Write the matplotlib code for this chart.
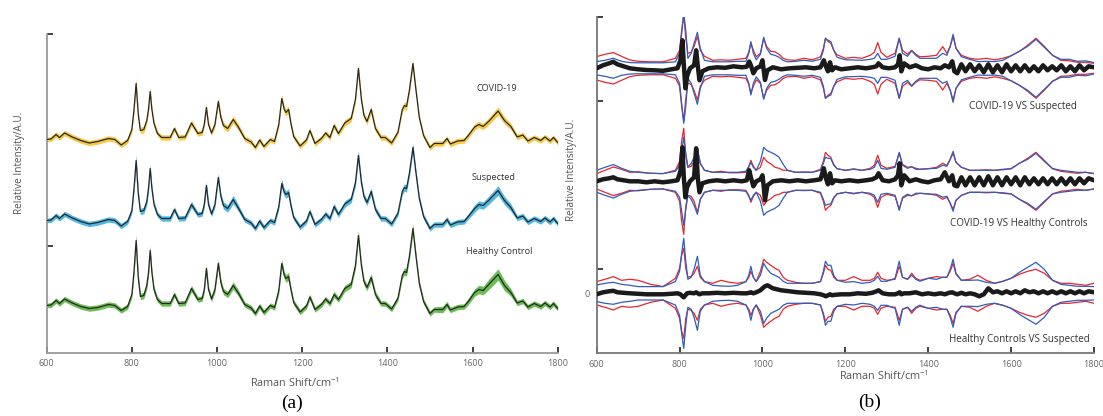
import matplotlib
matplotlib.use('Agg')
import matplotlib.pyplot as plt
import numpy as np

# ---------------- data ----------------
shift_ticks = [600, 800, 1000, 1200, 1400, 1600, 1800]
group_labels = ['COVID-19', 'Suspected', 'Healthy Control']
comparison_labels = ['COVID-19 VS Suspected', 'COVID-19 VS Healthy Controls',
                     'Healthy Controls VS Suspected']

# (Raman shift, mean intensity, std) for each group, panel (a)
covid_spectrum = [
    (600, 0, 2.2), (610, 0.5, 2.5), (622, 5, 2.7), (630, 2, 2.7), (642, 6.5, 2.7), (660, 2.5, 2.7),
    (680, -1, 2.7), (700, -3.5, 2.7), (720, -2, 2.7), (745, 1, 2.7), (760, 0, 2.7), (775, -5.5, 2.7),
    (790, -1, 2.7), (800, 10, 3.2), (805, 30, 4.2), (810, 56, 5.7), (815, 25, 4.2), (820, 9, 3.2),
    (828, 10, 3.2), (835, 19, 3.7), (839, 30, 4.2), (843, 48, 4.7), (847, 30, 3.7), (852, 16, 3.2),
    (860, 6, 2.7), (870, 2, 2.7), (890, 2, 2.7), (900, 11, 2.7), (910, 2, 2.7), (925, 2.5, 2.7),
    (940, 16.5, 3.2), (955, 6, 2.7), (965, 7, 2.7), (970, 15, 3.2), (975, 32, 3.7), (980, 15, 3.2),
    (987, 6.5, 2.7), (995, 15, 3.2), (1003, 38, 4.2), (1009, 22, 3.7), (1015, 14, 3.2), (1025, 11, 3.2),
    (1038, 20, 3.7), (1050, 12.5, 3.2), (1065, 1, 2.7), (1080, -2.5, 2.7), (1090, -8, 2.7), (1100, -0.5, 2.7),
    (1110, -7, 2.7), (1125, 0, 2.7), (1135, -2, 2.7), (1145, 15, 3.2), (1152, 41, 4.2), (1158, 30, 3.7),
    (1162, 27, 3.7), (1168, 30, 3.7), (1174, 15, 3.2), (1180, 3, 2.7), (1195, -6.5, 2.7), (1210, -0.5, 2.7),
    (1218, 9, 2.7), (1230, -4, 2.7), (1245, 1, 2.7), (1255, 6.5, 2.7), (1265, 2, 2.7), (1275, 14, 3.2),
    (1285, 6, 2.7), (1300, 16.5, 3.2), (1315, 21, 3.2), (1325, 40, 3.7), (1332, 71, 4.7), (1339, 40, 3.7),
    (1345, 24, 3.2), (1352, 18, 3.2), (1362, 30, 3.7), (1372, 11, 3.2), (1385, 2, 2.7), (1395, 2, 2.7),
    (1410, -3.5, 2.7), (1425, 7.5, 2.7), (1435, 30, 3.2), (1440, 34, 3.7), (1445, 33, 3.7), (1452, 50, 3.7),
    (1460, 76, 4.2), (1467, 50, 3.7), (1475, 22, 3.2), (1485, 4, 2.7), (1500, -8, 2.7), (1510, -4, 2.7),
    (1530, -4, 2.7), (1540, 1, 2.7), (1548, -4.5, 2.7), (1565, -1.5, 2.7), (1580, -1, 2.7), (1590, 4, 2.7),
    (1605, 12.5, 3.2), (1615, 15, 3.2), (1625, 13, 3.2), (1640, 19, 3.7), (1660, 28.5, 4.2),
    (1675, 19, 3.7), (1690, 13, 3.2), (1705, 2.5, 2.7), (1718, 4.5, 2.7), (1730, -1.5, 2.7), (1745, 2, 2.7),
    (1760, -1, 2.7), (1770, 2.5, 2.7), (1782, -1.5, 2.7), (1790, 2, 2.7), (1800, -3, 2.5)]

suspected_spectrum = [
    (600, 0, 2.2), (610, 0.5, 2.5), (622, 5, 2.7), (630, 2, 2.7), (642, 6.5, 2.7), (660, 2.5, 2.7),
    (680, -1, 2.7), (700, -3.5, 2.7), (720, -2, 2.7), (745, 1, 2.7), (760, 0, 2.7), (775, -5.5, 2.7),
    (790, -1, 2.7), (800, 10, 3.2), (805, 32, 4.2), (810, 60, 5.7), (815, 27, 4.2), (820, 9, 3.2),
    (828, 10, 3.2), (835, 19, 3.7), (839, 32, 4.2), (843, 52, 4.7), (847, 32, 3.7), (852, 16, 3.2),
    (860, 6, 2.7), (870, 2, 2.7), (890, 2, 2.7), (900, 11, 2.7), (910, 2, 2.7), (925, 2.5, 2.7),
    (940, 16, 3.2), (955, 6, 2.7), (965, 7, 2.7), (970, 16, 3.2), (975, 35, 3.7), (980, 16, 3.2),
    (987, 6.5, 2.7), (995, 16, 3.2), (1003, 43, 4.2), (1009, 24, 3.7), (1015, 15, 3.7), (1025, 12, 3.7),
    (1038, 21, 4.2), (1050, 12.5, 3.2), (1065, 1, 2.7), (1080, -2.5, 2.7), (1090, -8, 2.7), (1100, -0.5, 2.7),
    (1110, -7, 2.7), (1125, 0, 2.7), (1135, -2, 2.7), (1145, 14, 3.2), (1152, 37, 4.2), (1158, 28, 3.7),
    (1162, 26, 3.7), (1168, 28, 3.7), (1174, 14, 3.2), (1180, 3, 2.7), (1195, -6.5, 2.7), (1210, -0.5, 2.7),
    (1218, 9, 2.7), (1230, -4, 2.7), (1245, 1, 2.7), (1255, 6.5, 2.7), (1265, 2, 2.7), (1275, 14, 3.2),
    (1285, 6, 2.7), (1300, 16.5, 3.2), (1315, 21, 3.2), (1325, 38, 3.7), (1332, 65, 4.7), (1339, 38, 3.7),
    (1345, 24, 3.2), (1352, 18, 3.2), (1362, 29, 3.7), (1372, 11, 3.2), (1385, 2, 2.7), (1395, 2, 2.7),
    (1410, -3.5, 2.7), (1425, 7.5, 2.7), (1435, 29, 3.2), (1440, 33, 3.7), (1445, 32, 3.7), (1452, 48, 3.7),
    (1460, 73, 4.2), (1467, 48, 3.7), (1475, 22, 3.2), (1485, 4, 2.7), (1500, -8, 2.7), (1510, -4, 2.7),
    (1530, -4, 2.7), (1540, 1, 2.7), (1548, -4.5, 2.7), (1565, -1.5, 2.7), (1580, -1, 2.7), (1590, 4, 2.7),
    (1605, 12, 3.7), (1615, 16, 3.7), (1625, 15, 3.7), (1640, 21, 4.2), (1660, 30, 4.7),
    (1675, 20, 4.2), (1690, 13, 3.7), (1705, 2.5, 2.7), (1718, 4.5, 2.7), (1730, -1.5, 2.7), (1745, 2, 2.7),
    (1760, -1, 2.7), (1770, 2.5, 2.7), (1782, -1.5, 2.7), (1790, 2, 2.7), (1800, -3, 2.5)]

healthy_spectrum = [
    (600, 0, 2.2), (610, 0.5, 2.5), (622, 5, 2.7), (630, 2, 2.7), (642, 6.5, 2.7), (660, 2.5, 2.7),
    (680, -1, 2.7), (700, -3, 2.7), (720, -2, 2.7), (745, 1, 2.7), (760, 0, 2.7), (775, -5, 2.7),
    (790, -1, 2.7), (800, 11, 3.2), (805, 34, 4.2), (810, 65, 5.7), (815, 28, 4.2), (820, 9, 3.2),
    (828, 10, 3.2), (835, 20, 3.7), (839, 33, 4.2), (843, 55, 4.7), (847, 33, 3.7), (852, 16, 3.2),
    (860, 6, 2.7), (870, 2, 2.7), (890, 2, 2.7), (900, 11, 2.7), (910, 2, 2.7), (925, 2.5, 2.7),
    (940, 17, 3.2), (955, 6, 2.7), (965, 7, 2.7), (970, 16, 3.2), (975, 37, 4.2), (980, 16, 3.2),
    (987, 6.5, 2.7), (995, 16, 3.2), (1003, 42, 4.2), (1009, 23, 3.7), (1015, 14, 3.2), (1025, 11, 3.2),
    (1038, 20, 3.7), (1050, 12.5, 3.2), (1065, 1, 2.7), (1080, -2.5, 2.7), (1090, -8, 2.7), (1100, -0.5, 2.7),
    (1110, -7, 2.7), (1125, 0, 2.7), (1135, -2, 2.7), (1145, 15, 3.2), (1152, 42, 4.2), (1158, 30, 3.7),
    (1162, 27, 3.7), (1168, 29, 4.2), (1174, 15, 3.2), (1180, 3, 2.7), (1195, -6.5, 2.7), (1210, -0.5, 2.7),
    (1218, 8.5, 2.7), (1230, -4, 2.7), (1245, 1, 2.7), (1255, 6.5, 2.7), (1265, 2, 2.7), (1275, 11, 3.2),
    (1285, 6, 2.7), (1300, 17, 3.2), (1315, 21, 3.2), (1325, 40, 3.7), (1332, 70, 4.7), (1339, 40, 3.7),
    (1345, 24, 3.2), (1352, 18, 3.2), (1362, 28, 3.7), (1372, 11, 3.2), (1385, 2, 2.7), (1395, 2, 2.7),
    (1410, -3.5, 2.7), (1425, 7.5, 2.7), (1435, 30, 3.2), (1440, 34, 3.7), (1445, 33, 3.7), (1452, 50, 3.7),
    (1460, 77, 4.2), (1467, 50, 3.7), (1475, 22, 3.2), (1485, 4, 2.7), (1500, -8, 2.7), (1510, -4, 2.7),
    (1530, -4, 3.2), (1540, 1, 3.2), (1548, -4.5, 2.7), (1565, -1.5, 2.7), (1580, -1, 2.7), (1590, 4, 3.2),
    (1605, 13, 3.7), (1615, 16, 4.2), (1625, 15, 4.2), (1640, 22, 5.2), (1660, 31, 5.7),
    (1675, 20, 5.2), (1690, 13, 3.7), (1705, 2.5, 2.7), (1718, 4.5, 2.7), (1730, -1.5, 2.7), (1745, 2, 2.7),
    (1760, -1, 2.7), (1770, 2.5, 2.7), (1782, -1.5, 2.7), (1790, 2, 2.7), (1800, -3, 2.5)]

# panel (b): (Raman shift, std of first group [red], std of second group [blue])
cmp1_std = [
    (600, 11.7, 6.7), (620, 14, 8), (640, 15.7, 10), (660, 12, 7), (680, 8.3, 5.7), (700, 7, 5.5),
    (730, 6.5, 5.5), (760, 6.5, 5.5), (790, 10, 6.5), (800, 18, 15), (805, 38, 35), (810, 53, 55),
    (815, 30, 38), (820, 15, 10), (828, 16, 15), (835, 22, 25), (843, 31.7, 36), (850, 18, 20),
    (860, 12, 8), (880, 8, 6.5), (900, 8.5, 6.5), (920, 8, 6.5), (940, 9, 7), (960, 10, 7),
    (967, 16, 15), (972, 25, 26.7), (978, 18, 15), (985, 11.5, 8.5), (995, 15, 14), (1003, 30, 31),
    (1010, 22, 20), (1020, 17, 14), (1030, 16.5, 13), (1040, 14, 11), (1050, 10, 8), (1060, 8.5, 6.5),
    (1080, 8, 7), (1100, 10, 8), (1120, 8.5, 7), (1140, 11.5, 9), (1147, 20, 18), (1152, 30, 30),
    (1158, 27, 28), (1165, 25, 26.7), (1172, 18, 18), (1180, 13.5, 11), (1200, 10, 8.5), (1220, 11, 8.3),
    (1240, 10, 8), (1260, 13, 9), (1270, 16, 10), (1278, 25.7, 15), (1286, 16, 9), (1300, 11, 9),
    (1320, 15, 12), (1330, 30, 30), (1338, 18, 15), (1350, 14, 12), (1360, 18, 17.5), (1370, 14, 13),
    (1380, 11.5, 10), (1400, 12, 10), (1420, 13, 10), (1435, 21.7, 15), (1445, 15, 13), (1453, 22, 22),
    (1460, 31.7, 34), (1467, 20, 20), (1480, 13, 11.5), (1500, 10, 9), (1520, 9, 6.7), (1540, 10, 7),
    (1560, 8.5, 6.7), (1580, 10, 8), (1600, 12.5, 12.5), (1620, 17, 17), (1640, 23, 22), (1660, 30, 29),
    (1680, 22, 21), (1700, 13, 13), (1720, 8, 9), (1740, 7.5, 9), (1760, 6, 7), (1780, 6, 7.5),
    (1800, 5, 5.7)]

cmp2_std = [
    (600, 7.7, 11), (620, 11, 14), (640, 14.3, 16.7), (660, 12, 13), (680, 9, 10), (700, 9.5, 9),
    (730, 8, 8), (760, 7.7, 7.7), (790, 11, 10), (800, 20, 16), (805, 40, 30), (810, 53, 44),
    (815, 25, 28), (820, 14, 14), (828, 15, 18), (835, 20, 24), (843, 31, 33), (850, 18, 18),
    (860, 11, 11), (880, 9, 9), (900, 10, 9), (920, 8.5, 9), (940, 8.5, 9), (960, 9, 10),
    (967, 14, 15), (972, 21, 19), (978, 15, 14), (985, 11, 11), (995, 14, 20), (1003, 24, 34),
    (1010, 20, 31), (1020, 17.5, 29), (1030, 14, 27), (1040, 13, 24), (1050, 11, 17), (1060, 11, 11),
    (1080, 9, 9), (1100, 9.3, 9), (1120, 9, 9), (1140, 12, 11), (1147, 20, 18), (1152, 29, 24),
    (1158, 26, 23), (1165, 24, 22.7), (1172, 17, 16), (1180, 12.5, 12.7), (1200, 11, 11), (1220, 12.5, 12),
    (1240, 11, 11), (1260, 13, 12), (1270, 16, 14), (1278, 26, 21), (1286, 16, 13), (1300, 13, 12),
    (1320, 15, 14), (1330, 28, 29), (1338, 17, 16), (1350, 14, 13), (1360, 14.5, 14.5), (1370, 13, 12),
    (1380, 12, 12), (1400, 12.5, 12.7), (1420, 14, 13), (1435, 18, 16), (1445, 16, 15), (1453, 22, 22),
    (1460, 28, 30), (1467, 19, 19), (1480, 14, 14), (1500, 11, 11), (1520, 11, 11), (1540, 11.5, 11),
    (1560, 11, 11), (1580, 11.5, 12), (1600, 12.5, 12.7), (1620, 18, 18), (1640, 23, 22), (1660, 29, 28),
    (1680, 21, 20), (1700, 12.5, 12.7), (1720, 10, 11), (1740, 9, 10), (1760, 8, 9), (1780, 9, 9),
    (1800, 7.7, 7.7)]

cmp3_std = [
    (600, 11.7, 8.3), (620, 14, 10), (640, 16.7, 11), (660, 13, 9), (680, 14, 8), (700, 13, 6.7),
    (730, 9, 6.7), (760, 6.7, 6.7), (790, 15, 11.7), (800, 25, 22), (805, 38, 40), (810, 45, 55),
    (815, 25, 32), (820, 16, 14), (828, 17, 16), (835, 20, 24), (843, 27, 37), (850, 16, 18),
    (860, 11.7, 11.7), (880, 10, 8), (900, 13, 7.3), (920, 11, 7), (940, 10, 8), (960, 11.7, 11.7),
    (967, 16, 18), (972, 22, 27), (978, 16, 16), (985, 11.7, 11.7), (995, 22, 18), (1003, 34, 30),
    (1010, 31, 25), (1020, 28, 20), (1030, 25, 18), (1040, 23, 16), (1050, 16, 12), (1060, 13, 10),
    (1080, 11, 10), (1100, 10, 10), (1120, 10, 10), (1140, 11.7, 11.7), (1147, 20, 22), (1152, 28, 32),
    (1158, 24, 28), (1165, 23, 28), (1172, 16, 18), (1180, 13, 13), (1200, 13, 11), (1220, 16.7, 11.7),
    (1240, 13, 10), (1260, 13, 11), (1270, 15, 13), (1278, 21, 17), (1286, 15, 12), (1300, 13, 12),
    (1320, 14, 15), (1330, 27, 32), (1338, 16, 16), (1350, 14, 14), (1360, 20, 18), (1370, 15, 14),
    (1380, 13, 12), (1400, 15, 15), (1420, 16.7, 14), (1435, 16, 16), (1445, 16, 16), (1453, 22, 24),
    (1460, 30, 34), (1467, 19, 20), (1480, 13, 13), (1500, 14, 13), (1520, 18, 13.3), (1540, 13, 11),
    (1560, 10, 10), (1580, 12, 12), (1600, 15, 15), (1620, 19, 21), (1640, 22, 26), (1660, 24, 31),
    (1680, 20, 24), (1700, 13, 13), (1720, 10, 9), (1740, 10, 8), (1760, 9, 7), (1780, 8, 7),
    (1800, 10, 6.7)]

# panel (b): difference of mean spectra (Raman shift, difference)
cmp1_diff = [
    (600, 0), (615, 3), (630, 5), (640, 6.5), (650, 4), (665, 2), (680, 0), (700, -1), (720, -1.7),
    (740, -2), (760, -2.5), (780, -1), (795, 0), (802, 8), (807, 28), (810, 5), (814, -20), (818, -8),
    (825, 0), (835, 3), (840, 18), (844, 2), (848, -12), (855, -3), (870, 0), (890, 1), (910, 0.5),
    (930, 2), (950, 1), (962, 1.5), (968, 6.7), (972, 3), (978, -5), (985, 0), (995, 2), (1000, 8),
    (1003, -2), (1006, -11.7), (1012, -2), (1025, 1), (1045, -1), (1065, 0), (1085, 0.5), (1105, 1),
    (1125, 0), (1140, 1), (1148, 8), (1153, 2), (1158, -3), (1163, 6), (1168, -2), (1175, 1),
    (1190, -1), (1210, 0), (1230, 1), (1250, 0), (1265, 1), (1275, 2), (1280, 5), (1290, 1), (1305, 0),
    (1320, 1), (1327, 4), (1331, 13), (1335, -3), (1342, 5), (1355, 1), (1370, 3), (1385, 0),
    (1400, -1), (1415, 1), (1430, 0), (1440, 3), (1450, 1), (1458, 7), (1463, -3), (1470, -5),
    (1480, 4), (1490, -3), (1501, 4), (1512, -3), (1523, 3), (1534, -4), (1545, 4), (1556, -4),
    (1567, 3), (1578, -4), (1589, 4), (1600, -3), (1611, 3), (1622, -3), (1633, 3), (1644, -3),
    (1655, 2), (1666, -3), (1677, 3), (1688, -2), (1699, 2), (1710, -2), (1721, 3), (1732, -3),
    (1743, 2), (1754, -3), (1765, 3), (1776, -2), (1787, 2), (1800, 1)]

cmp2_diff = [
    (600, 0), (615, 2), (630, 3), (640, 4), (650, 2), (665, 1), (680, 0), (700, 0), (720, -1),
    (740, 0), (760, -1), (780, 0), (795, 1), (802, 10), (807, 34), (810, 5), (814, -16), (818, -6),
    (825, 0), (835, 4), (840, 33), (844, 3), (848, -11), (855, -2), (870, 0), (890, 1), (910, 0),
    (930, 1), (950, 0), (962, 1), (968, 11), (972, 4), (978, -5), (985, 0), (995, 2), (1000, 6),
    (1003, -5), (1006, -19), (1012, -4), (1025, 0), (1045, 1), (1065, 0), (1085, 1), (1105, 0),
    (1125, 1), (1140, 2), (1148, 13), (1153, 3), (1158, -3), (1163, 8), (1168, -2), (1175, 1),
    (1190, 0), (1210, 1), (1230, 0), (1250, 1), (1265, 2), (1275, 4), (1280, 8), (1290, 1), (1305, 0),
    (1320, 2), (1327, 6), (1331, 18), (1335, -4), (1342, 6), (1355, 0), (1370, 2), (1385, 0),
    (1400, -1), (1415, 1), (1430, 2), (1440, 9), (1450, 0), (1458, 6), (1463, -4), (1470, -5),
    (1480, 4), (1490, -4), (1501, 4), (1512, -4), (1523, 4), (1534, -4), (1545, 5), (1556, -4),
    (1567, 4), (1578, -4), (1589, 4), (1600, -3), (1611, 4), (1622, -4), (1633, 4), (1644, -3),
    (1655, 3), (1666, -3), (1677, 3), (1688, -3), (1699, 3), (1710, -3), (1721, 3), (1732, -3),
    (1743, 3), (1754, -3), (1765, 3), (1776, -2), (1787, 3), (1800, 1)]

cmp3_diff = [
    (600, -1), (615, 1), (630, 2), (640, 2.5), (650, 1), (665, 0.5), (680, 0), (700, -0.5), (720, -1),
    (740, -1), (760, -1), (780, -0.5), (795, 0), (802, -1), (807, -3), (810, -4), (814, -2), (818, 0),
    (825, 0.5), (835, 0), (840, 1), (844, 0), (848, -1), (855, 0), (870, 0), (890, 0.5), (910, 0),
    (930, 0.5), (950, 0), (962, 0), (968, 0.5), (972, 1), (978, 0), (985, 1), (995, 3), (1000, 5),
    (1003, 6), (1006, 7), (1012, 8), (1025, 5), (1045, 3), (1065, 2), (1085, 1), (1105, 0.5),
    (1125, 0), (1140, -1), (1148, -2), (1153, -3), (1158, -2), (1163, -1), (1168, -2), (1175, -1.5),
    (1190, -1), (1210, -1), (1230, 0), (1250, -0.5), (1265, 0.5), (1275, 2), (1280, 3), (1290, 0),
    (1305, -1), (1320, -1), (1327, 0), (1331, 1), (1335, -1), (1342, 0), (1355, 0), (1370, 1),
    (1385, -1), (1400, 0), (1415, -1), (1430, 0), (1440, -1), (1450, 0.5), (1458, 1), (1463, 0),
    (1470, -1), (1480, 0.5), (1490, -1), (1501, 0), (1512, -1), (1523, -3), (1534, -1), (1545, 5),
    (1556, 1), (1567, 2), (1578, 0), (1589, 2), (1600, 0), (1611, 2), (1622, 0), (1633, 3), (1644, 1),
    (1655, 2), (1666, 0), (1677, 2), (1688, 0), (1699, 2), (1710, 0), (1721, 2), (1732, 0), (1743, 2),
    (1754, 0), (1765, 2), (1776, 0), (1787, 2), (1800, 1)]

spectrum_offsets = [213, 132, 47]
comparison_offsets = [225, 112, 0]

# ---------------- style ----------------
FONT = ['Open Sans', 'DejaVu Sans']
plt.rcParams['font.family'] = FONT
plt.rcParams['mathtext.fontset'] = 'custom'
plt.rcParams['mathtext.rm'] = 'Open Sans'
band_colors = ['#F8C73A', '#45B4E4', '#62BA48']
mean_color = '#262626'
red_c = '#E8262D'
blue_c = '#2F5DBE'

W, H = 1103, 416
fig = plt.figure(figsize=(W / 100, H / 100), dpi=100)


def px_axes(x0, x1, y0, y1):
    return fig.add_axes([x0 / W, 1 - y1 / H, (x1 - x0) / W, (y1 - y0) / H])


def style_axes(ax, spine_color):
    for s in ['top', 'right']:
        ax.spines[s].set_visible(False)
    for s in ['left', 'bottom']:
        ax.spines[s].set_color(spine_color)
        ax.spines[s].set_linewidth(1.3)
    ax.tick_params(direction='in', length=4, width=1.3, color='#333333',
                   labelcolor='#666666', labelsize=6.5, pad=5)
    ax.set_xlim(600, 1800)
    ax.set_xticks(shift_ticks)
    ax.set_xticklabels([str(t) for t in shift_ticks])


# ---------------- panel (a) ----------------
axa = px_axes(46.7, 557.7, 34, 352.5)
style_axes(axa, '#9a9a9a')
axa.set_ylim(0, 318.5)
axa.set_yticks([106.3, 318.5])
axa.set_yticklabels(['', ''])

for spec, off, col in zip([covid_spectrum, suspected_spectrum, healthy_spectrum],
                          spectrum_offsets, band_colors):
    arr = np.array(spec, dtype=float)
    x, m, s = arr[:, 0], arr[:, 1], arr[:, 2]
    axa.fill_between(x, off + m - s, off + m + s, color=col, lw=0, alpha=0.95, zorder=2)
    axa.plot(x, off + m, color=mean_color, lw=0.9, zorder=3, solid_joinstyle='round')

label_pos_a = [(1657, 264), (1650, 174.5), (1662, 101.5)]
for (lx, ly), t in zip(label_pos_a, group_labels):
    axa.text(lx, ly, t, ha='center', va='center', fontsize=6.6, color='#333333')

# ---------------- panel (b) ----------------
axb = px_axes(596.7, 1094, 16.7, 352.7)
style_axes(axb, '#777777')
axb.set_ylim(-59.4, 276.6)
axb.set_yticks([0, 24, 192.6, 276.6])
axb.set_yticklabels(['0', '', '', ''])

for stds, diff, off in zip([cmp1_std, cmp2_std, cmp3_std],
                           [cmp1_diff, cmp2_diff, cmp3_diff], comparison_offsets):
    a = np.array(stds, dtype=float)
    x, r, b = a[:, 0], a[:, 1], a[:, 2]
    axb.plot(x, off + r, color=red_c, lw=0.9, zorder=2)
    axb.plot(x, off - r, color=red_c, lw=0.9, zorder=2)
    axb.plot(x, off + b, color=blue_c, lw=0.9, zorder=3)
    axb.plot(x, off - b, color=blue_c, lw=0.9, zorder=3)
    d = np.array(diff, dtype=float)
    axb.plot(d[:, 0], off + d[:, 1], color='#1a1a1a', lw=3.2, zorder=4,
             solid_joinstyle='round', solid_capstyle='round')

label_pos_b = [(1629, 187.3), (1618, 70), (1620, -46)]
for (lx, ly), t in zip(label_pos_b, comparison_labels):
    axb.text(lx, ly, t, ha='center', va='center', fontsize=7.1, color='#333333')

# ---------------- axis titles ----------------
fig.text(20 / W, 1 - 163 / H, 'Relative Intensity/A.U.', rotation=90, ha='center',
         va='center', fontsize=7.2, color='#555555')
fig.text(571.7 / W, 1 - 170 / H, 'Relative Intensity/A.U.', rotation=90, ha='center',
         va='center', fontsize=7.2, color='#555555')
for cx, cy in [(295, 383), (884, 376)]:
    fig.text(cx / W, 1 - cy / H, 'Raman Shift/cm$^{\\mathregular{-1}}$', ha='center',
             va='center', fontsize=7.8, color='#555555')
fig.text(291.5 / W, 1 - 403 / H, '(a)', ha='center', va='center', fontsize=14,
         family=['Liberation Serif', 'DejaVu Serif'], color='black')
fig.text(870 / W, 1 - 402 / H, '(b)', ha='center', va='center', fontsize=14,
         family=['Liberation Serif', 'DejaVu Serif'], color='black')

fig.savefig('out.png', dpi=100)
